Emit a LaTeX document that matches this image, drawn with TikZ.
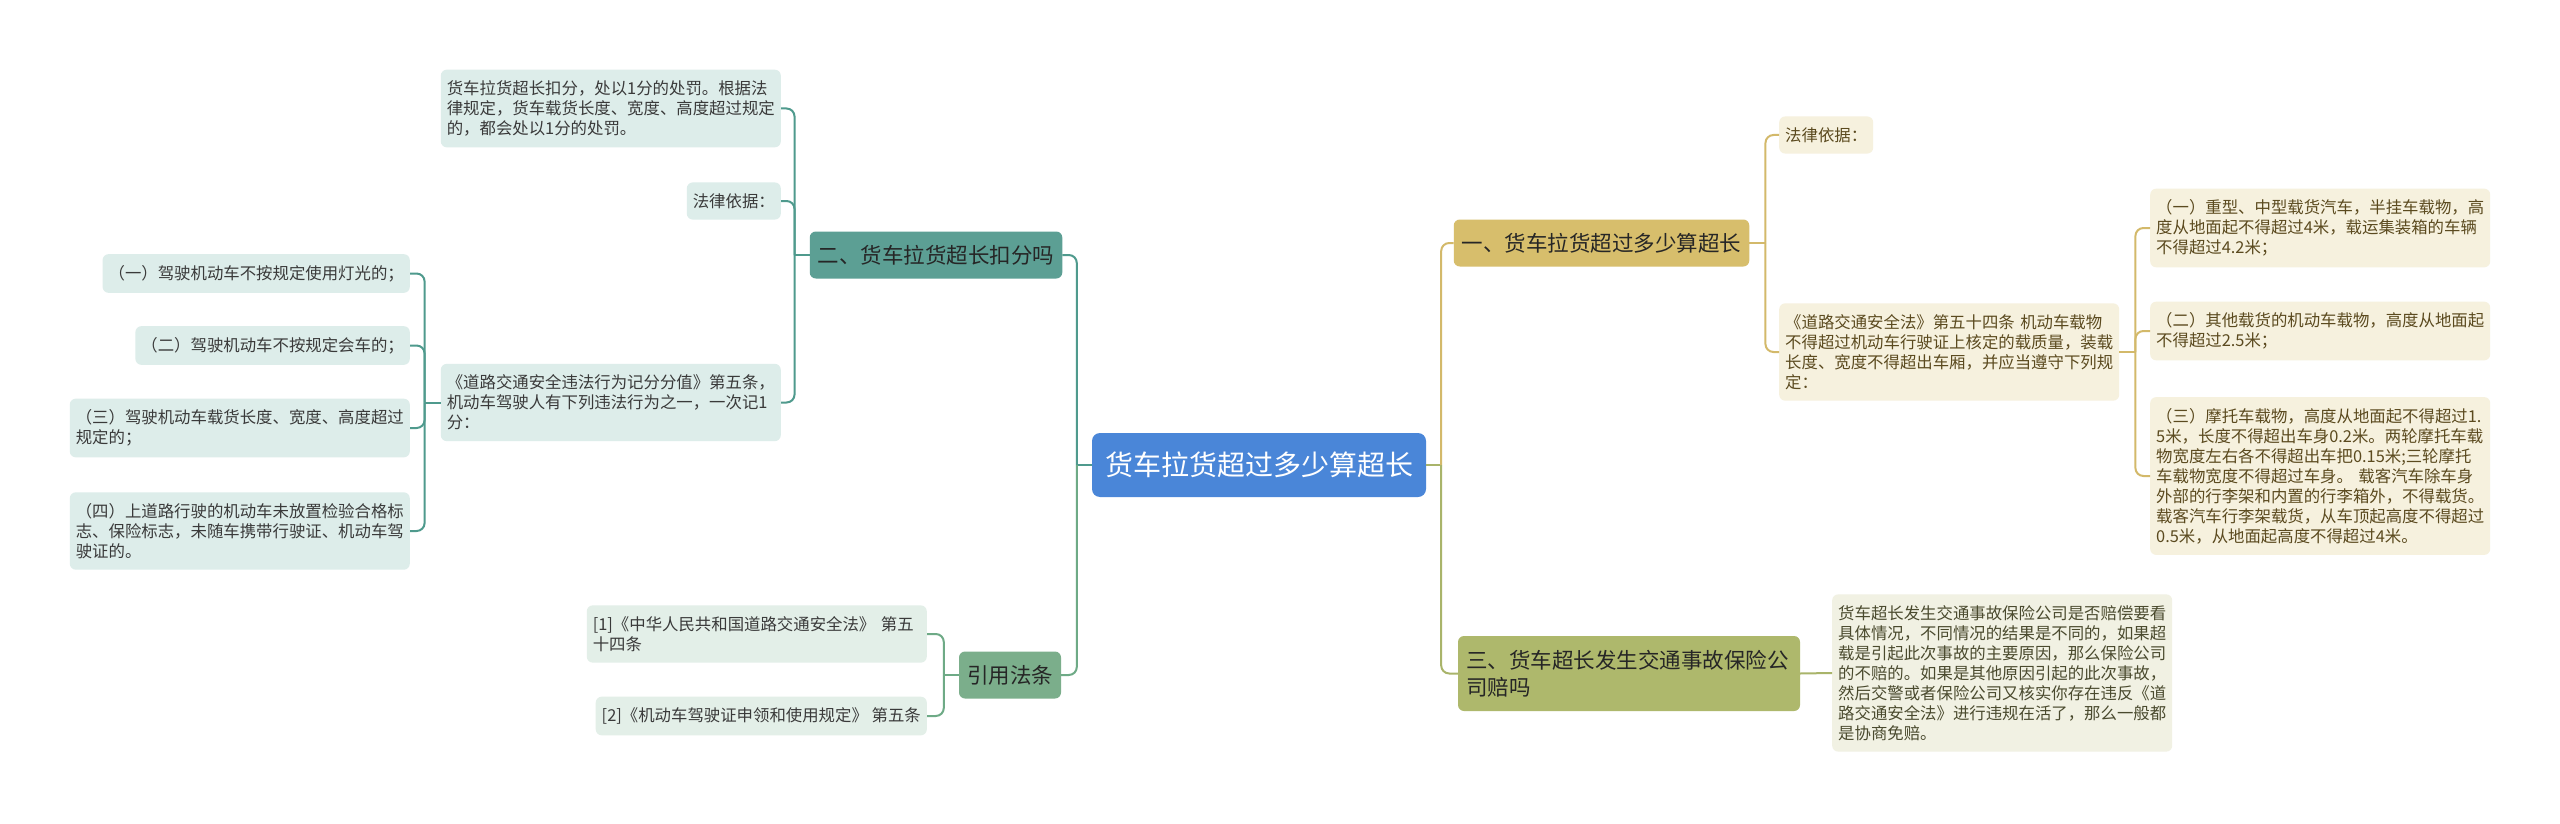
\documentclass[tikz,border=0pt]{standalone}
\usepackage{fontspec}
\setmainfont{Noto Sans CJK SC}
\definecolor{rootblue}{HTML}{4A86D8}
\definecolor{tealnode}{HTML}{5C9F94}
\definecolor{tealline}{HTML}{4F9A8D}
\definecolor{tealfill}{HTML}{DDEDEA}
\definecolor{greennode}{HTML}{7BAE8B}
\definecolor{greenline}{HTML}{6EAA86}
\definecolor{greenfill}{HTML}{E3EFE8}
\definecolor{goldnode}{HTML}{D7BE6C}
\definecolor{goldline}{HTML}{D3B96A}
\definecolor{goldfill}{HTML}{F6F1DE}
\definecolor{olivenode}{HTML}{AEB86C}
\definecolor{oliveline}{HTML}{A9B46A}
\definecolor{olivefill}{HTML}{F1F1E3}
\definecolor{darktext}{HTML}{3A3A3A}
\definecolor{goldtext}{HTML}{5B4A1F}
\definecolor{olivetext}{HTML}{4A4A2E}
\begin{document}
\begin{tikzpicture}[x=1pt,y=-1pt,
  every node/.style={inner xsep=6pt,inner ysep=11pt,rounded corners=6pt,align=left,font=\fontsize{16.4}{20}\selectfont},
  wide/.style={text width=328pt},
  topic/.style={inner xsep=8pt,inner ysep=6pt,minimum height=47pt,font=\fontsize{21.5}{27}\selectfont},
  tealbox/.style={fill=tealfill,text=darktext},
  greenbox/.style={fill=greenfill,text=darktext},
  goldbox/.style={fill=goldfill,text=goldtext},
  olivebox/.style={fill=olivefill,text=olivetext},
  link/.style={line width=2pt,rounded corners=8pt}]
\fill[white] (0,0) rectangle (2560,824);
\useasboundingbox (0,0) rectangle (2560,824);

\node[fill=rootblue,text=white,rounded corners=8pt,inner xsep=13pt,minimum height=64pt,font=\fontsize{28}{34}\selectfont] (root) at (1259,465) {货车拉货超过多少算超长};

\node[topic,fill=tealnode,text=black!85] (er) at (936,255) {二、货车拉货超长扣分吗};
\node[topic,fill=greennode,text=black!85] (yy) at (1010,675) {引用法条};
\node[topic,fill=goldnode,text=black!85] (yi) at (1601.5,243) {一、货车拉货超过多少算超长};
\node[topic,text width=326pt,minimum height=75pt,fill=olivenode,text=black!85] (san) at (1629,673.5) {三、货车超长发生交通事故保险公\\司赔吗};

\node[tealbox,wide,anchor=east] (a1) at (781,108.5) {货车拉货超长扣分，处以1分的处罚。根据法\\律规定，货车载货长度、宽度、高度超过规定\\的，都会处以1分的处罚。};
\node[tealbox,anchor=east] (a2) at (781,201) {法律依据：};
\node[tealbox,wide,anchor=east] (a3) at (781,402.5) {《道路交通安全违法行为记分分值》第五条，\\机动车驾驶人有下列违法行为之一，一次记1\\分：};
\node[tealbox,anchor=east] (b1) at (410,273.5) {（一）驾驶机动车不按规定使用灯光的；};
\node[tealbox,anchor=east] (b2) at (410,345.5) {（二）驾驶机动车不按规定会车的；};
\node[tealbox,wide,anchor=east] (b3) at (410,428) {（三）驾驶机动车载货长度、宽度、高度超过\\规定的；};
\node[tealbox,wide,anchor=east] (b4) at (410,531) {（四）上道路行驶的机动车未放置检验合格标\\志、保险标志，未随车携带行驶证、机动车驾\\驶证的。};

\node[greenbox,wide,anchor=east] (c1) at (927,634) {[1]《中华人民共和国道路交通安全法》 第五\\十四条};
\node[greenbox,anchor=east] (c2) at (927,716) {[2]《机动车驾驶证申领和使用规定》 第五条};

\node[goldbox,anchor=west] (d1) at (1779,135) {法律依据：};
\node[goldbox,wide,anchor=west] (d2) at (1779,352) {《道路交通安全法》第五十四条 机动车载物\\不得超过机动车行驶证上核定的载质量，装载\\长度、宽度不得超出车厢，并应当遵守下列规\\定：};
\node[goldbox,wide,anchor=west] (e1) at (2150,228) {（一）重型、中型载货汽车，半挂车载物，高\\度从地面起不得超过4米，载运集装箱的车辆\\不得超过4.2米；};
\node[goldbox,wide,anchor=west] (e2) at (2150,331) {（二）其他载货的机动车载物，高度从地面起\\不得超过2.5米；};
\node[goldbox,wide,anchor=west] (e3) at (2150,476) {（三）摩托车载物，高度从地面起不得超过1.\\5米，长度不得超出车身0.2米。两轮摩托车载\\物宽度左右各不得超出车把0.15米;三轮摩托\\车载物宽度不得超过车身。 载客汽车除车身\\外部的行李架和内置的行李箱外，不得载货。\\载客汽车行李架载货，从车顶起高度不得超过\\0.5米，从地面起高度不得超过4米。};

\node[olivebox,wide,anchor=west] (f1) at (1832,673) {货车超长发生交通事故保险公司是否赔偿要看\\具体情况，不同情况的结果是不同的，如果超\\载是引起此次事故的主要原因，那么保险公司\\的不赔的。如果是其他原因引起的此次事故，\\然后交警或者保险公司又核实你存在违反《道\\路交通安全法》进行违规在活了，那么一般都\\是协商免赔。};

\draw[link,tealline] (root.west) -- ++(-15,0);
\draw[link,tealline] ([xshift=-15pt]root.west) |- (er.east);
\draw[link,greenline] ([xshift=-15pt]root.west) |- (yy.east);
\draw[link,oliveline] (root.east) -- ++(15,0);
\draw[link,goldline] ([xshift=15pt]root.east) |- (yi.west);
\draw[link,oliveline] ([xshift=15pt]root.east) |- (san.west);

\draw[link,tealline] (er.west) -- ++(-15,0);
\foreach \c in {a1,a2,a3}
  \draw[link,tealline] ([xshift=-15pt]er.west) |- (\c.east);
\draw[link,tealline] (a3.west) -- ++(-16,0);
\foreach \c in {b1,b2,b3,b4}
  \draw[link,tealline] ([xshift=-16pt]a3.west) |- (\c.east);

\draw[link,greenline] (yy.west) -- ++(-15,0);
\foreach \c in {c1,c2}
  \draw[link,greenline] ([xshift=-15pt]yy.west) |- (\c.east);

\draw[link,goldline] (yi.east) -- ++(16,0);
\foreach \c in {d1,d2}
  \draw[link,goldline] ([xshift=16pt]yi.east) |- (\c.west);
\draw[link,goldline] (d2.east) -- ++(16,0);
\foreach \c in {e1,e2,e3}
  \draw[link,goldline] ([xshift=16pt]d2.east) |- (\c.west);

\draw[link,oliveline] (san.east) -- (f1.west);
\end{tikzpicture}
\end{document}
